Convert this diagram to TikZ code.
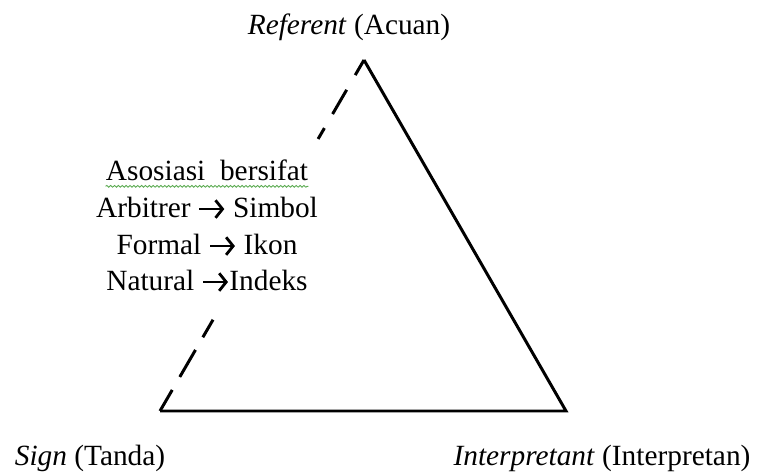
\documentclass[tikz,border=0pt]{standalone}
\usepackage{fontspec}
\setmainfont{Liberation Serif}
\usepackage{tikz}
\usetikzlibrary{arrows.meta,calc,positioning,decorations.pathmorphing}
\definecolor{spellgreen}{RGB}{90,170,80}
\newcommand{\assocarrow}{\tikz[baseline=-0.6ex]\draw[line width=1.6pt,-{Straight Barb[length=4pt,width=10pt,line width=1.6pt]}] (0,0) -- (0.85em,0);}

\begin{document}
\begin{tikzpicture}[x=0.02cm,y=0.02cm,
  side/.style={line width=1.7pt,line join=miter},
  lbl/.style={font=\fontsize{16.7}{21}\selectfont,inner sep=0pt}]
\useasboundingbox (0,0) rectangle (765,473);
% titik sudut segitiga
\coordinate (ref) at (364,413);
\coordinate (sign) at (160,62);
\coordinate (intp) at (566,62);
% sisi kanan dan alas: garis penuh
\draw[side] (ref) -- (intp) -- (sign);
% sisi kiri: putus-putus, kosong di tengah
\foreach \a/\b in {0/.06,.097/.174,.21/.26,.775/.806,.846/.915,.957/1}
  \draw[side] ($(sign)!\a!(ref)$) -- ($(sign)!\b!(ref)$);
% label sudut
\node[lbl] (refl) at (349,446) {\textit{Referent} (Acuan)};
\node[lbl] (signl) at (90,15) {\textit{Sign} (Tanda)};
\node[lbl] (intpl) at (602,15) {\textit{Interpretant} (Interpretan)};
% keterangan asosiasi
\node[lbl] (asos) at (207,303) {Asosiasi\ \ bersifat};
\node[lbl] (arb) at (207,265) {Arbitrer \assocarrow\ Simbol};
\node[lbl] (form) at (207,228) {Formal \assocarrow\ Ikon};
\node[lbl] (nat) at (207,192) {Natural \assocarrow Indeks};
\draw[spellgreen,line width=0.5pt,decorate,decoration={snake,amplitude=0.5pt,segment length=2.2pt}]
  ([yshift=-3.5pt]asos.base west) -- ([yshift=-3.5pt]asos.base east);
\end{tikzpicture}
\end{document}
